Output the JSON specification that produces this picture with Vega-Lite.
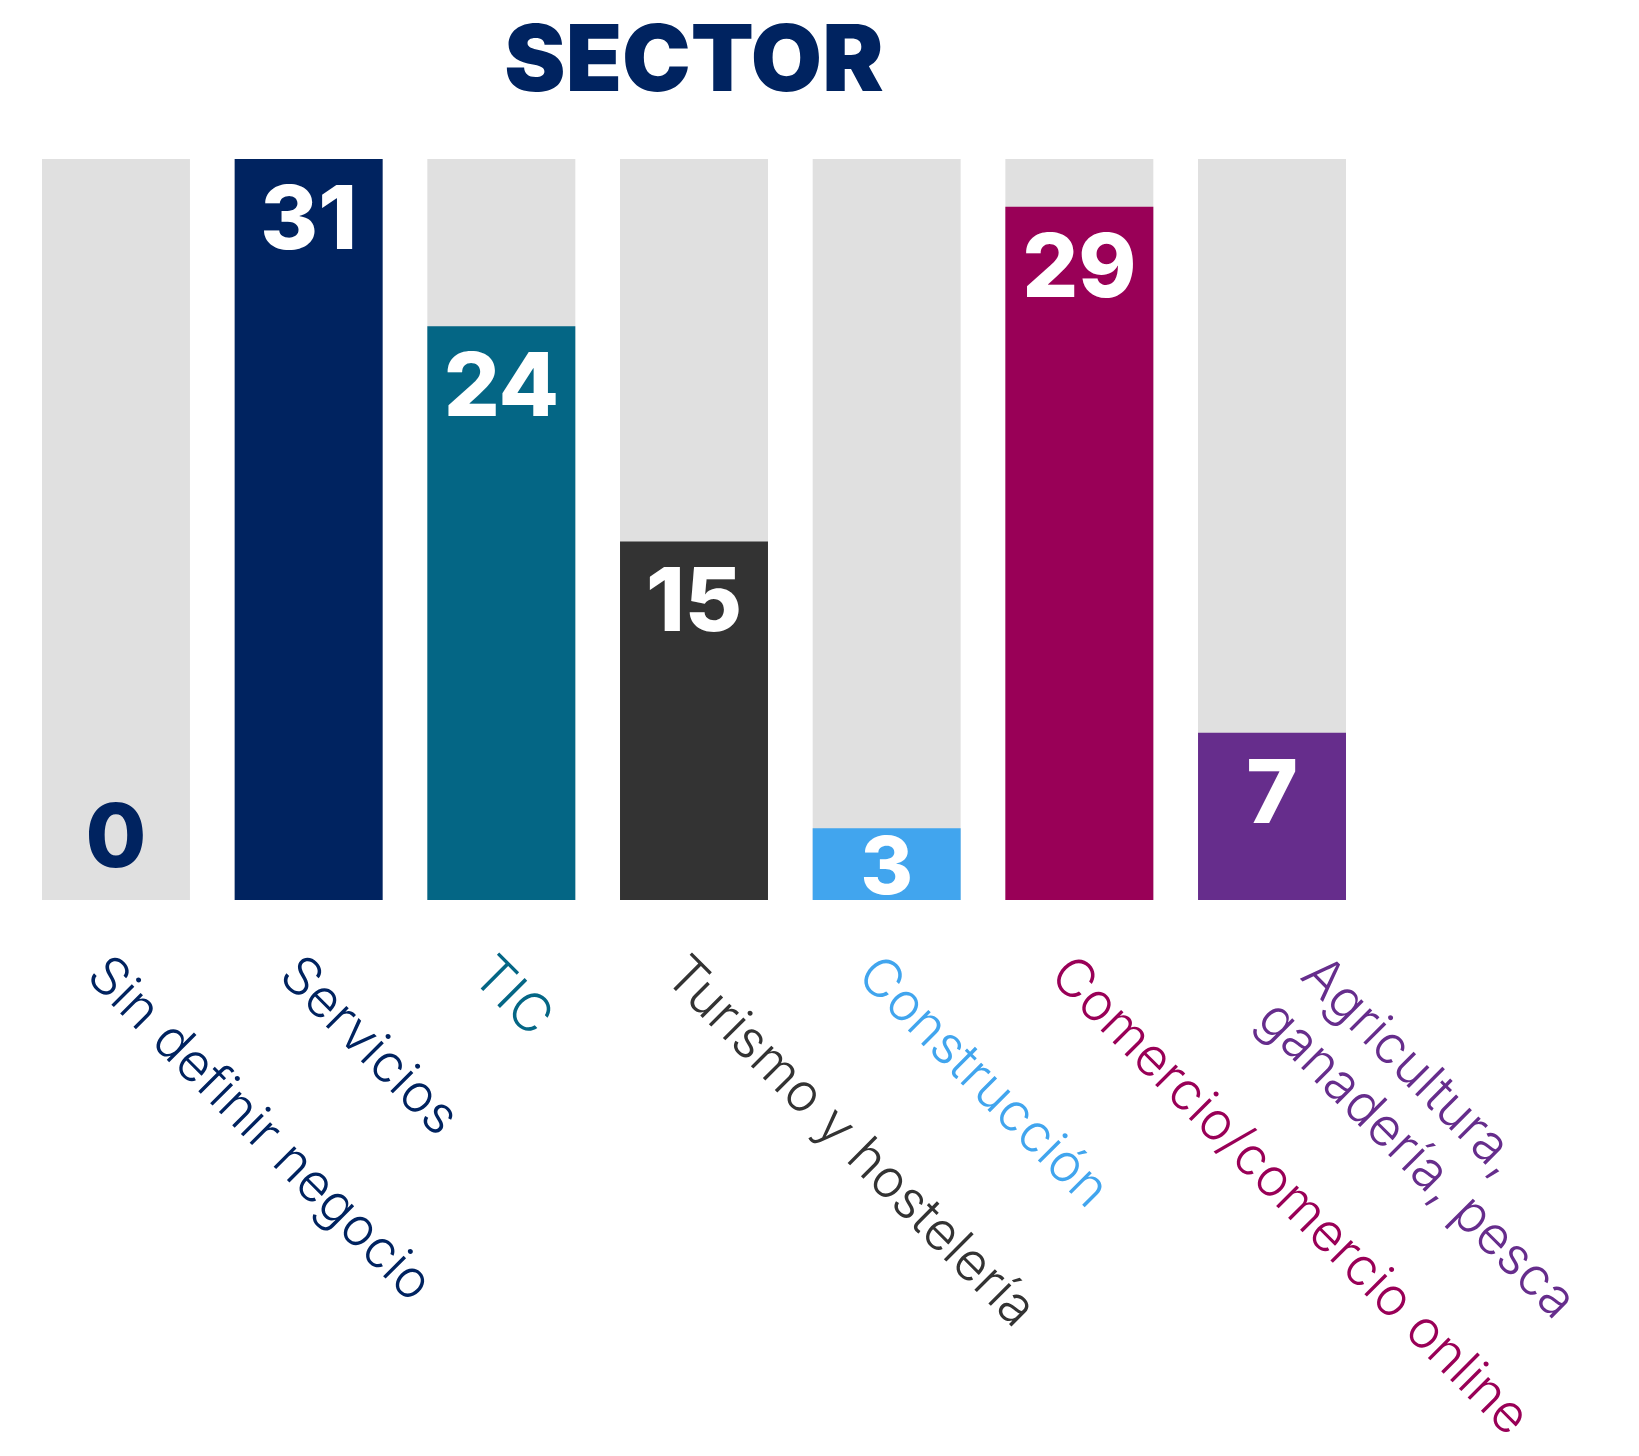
{
  "$schema": "https://vega.github.io/schema/vega-lite/v6.json",
  "width": 1304,
  "height": 741,
  "padding": {"left": 42, "top": 17, "right": 0, "bottom": 0},
  "autosize": {"type": "pad"},
  "background": "white",
  "title": {
    "text": "SECTOR",
    "font": "Inter",
    "fontSize": 92,
    "fontWeight": 900,
    "color": "#002360",
    "anchor": "middle",
    "offset": 49
  },
  "config": {"view": {"stroke": null}},
  "data": {
    "values": [
      {"sector": "Sin definir negocio", "value": 0},
      {"sector": "Servicios", "value": 31},
      {"sector": "TIC", "value": 24},
      {"sector": "Turismo y hostelería", "value": 15},
      {"sector": "Construcción", "value": 3},
      {"sector": "Comercio/comercio online", "value": 29},
      {"sector": "Agricultura, ganadería, pesca", "value": 7}
    ]
  },
  "encoding": {
    "x": {
      "field": "sector",
      "type": "nominal",
      "sort": null,
      "scale": {"paddingInner": 0.232, "paddingOuter": 0},
      "axis": {
        "title": null,
        "domain": false,
        "ticks": false,
        "grid": false,
        "labelAngle": 45,
        "labelAlign": "left",
        "labelBaseline": "middle",
        "labelFont": "Inter",
        "labelFontSize": 53,
        "labelFontWeight": 300,
        "labelPadding": 66,
        "labelLimit": 0,
        "labelLineHeight": 62,
        "labelOverlap": false,
        "labelOffset": {
          "condition": {"test": "datum.value == 'Agricultura, ganadería, pesca'", "value": 38},
          "value": -20
        },
        "labelExpr": "datum.value == 'Agricultura, ganadería, pesca' ? ['Agricultura,', 'ganadería, pesca'] : datum.value",
        "labelColor": {
          "condition": [
            {"test": "datum.value == 'TIC'", "value": "#046685"},
            {"test": "datum.value == 'Turismo y hostelería'", "value": "#333333"},
            {"test": "datum.value == 'Construcción'", "value": "#41A5EE"},
            {"test": "datum.value == 'Comercio/comercio online'", "value": "#990057"},
            {"test": "datum.value == 'Agricultura, ganadería, pesca'", "value": "#662D8C"}
          ],
          "value": "#002360"
        }
      }
    }
  },
  "layer": [
    {
      "mark": {"type": "bar", "color": "#E0E0E0"},
      "encoding": {
        "y": {"datum": 31, "type": "quantitative", "scale": {"domain": [0, 31], "nice": false}, "axis": null}
      }
    },
    {
      "mark": {"type": "bar"},
      "encoding": {
        "y": {"field": "value", "type": "quantitative", "axis": null},
        "color": {
          "field": "sector",
          "type": "nominal",
          "legend": null,
          "scale": {
            "domain": ["Sin definir negocio", "Servicios", "TIC", "Turismo y hostelería", "Construcción", "Comercio/comercio online", "Agricultura, ganadería, pesca"],
            "range": ["#002360", "#002360", "#046685", "#333333", "#41A5EE", "#990057", "#662D8C"]
          }
        }
      }
    },
    {
      "transform": [{"filter": "datum.value >= 5"}],
      "mark": {"type": "text", "font": "Inter", "fontSize": 88, "fontWeight": 800, "color": "white", "baseline": "alphabetic", "dy": 90},
      "encoding": {
        "y": {"field": "value", "type": "quantitative", "axis": null},
        "text": {"field": "value", "type": "quantitative"}
      }
    },
    {
      "transform": [{"filter": "datum.value > 0 && datum.value < 5"}],
      "mark": {"type": "text", "font": "Inter", "fontSize": 80, "fontWeight": 800, "color": "white", "baseline": "alphabetic", "dy": 66},
      "encoding": {
        "y": {"field": "value", "type": "quantitative", "axis": null},
        "text": {"field": "value", "type": "quantitative"}
      }
    },
    {
      "transform": [{"filter": "datum.value == 0"}],
      "mark": {"type": "text", "font": "Inter", "fontSize": 88, "fontWeight": 800, "color": "#002360", "baseline": "alphabetic", "dy": -33},
      "encoding": {
        "y": {"field": "value", "type": "quantitative", "axis": null},
        "text": {"field": "value", "type": "quantitative"}
      }
    }
  ]
}
